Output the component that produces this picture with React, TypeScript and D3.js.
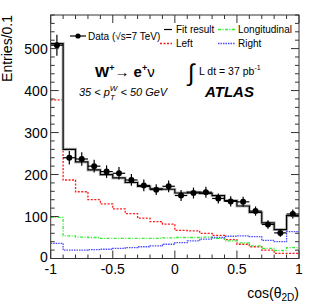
import React from "react";
import * as d3 from "d3";

const binEdges = [-1, -0.9, -0.8, -0.7, -0.6, -0.5, -0.4, -0.3, -0.2, -0.1, 0, 0.1, 0.2, 0.3, 0.4, 0.5, 0.6, 0.7, 0.8, 0.9, 1];
const dataValues = [508, 240, 237, 220, 207, 203, 187, 174, 164, 172, 150, 156, 158, 143, 136, 135, 113, 81, 61, 106];
const dataErrors = [25, 16, 16, 15, 15, 15, 14, 14, 13, 14, 13, 13, 13, 12, 12, 12, 11, 10, 9, 11];
const fitValues = [512, 260, 230, 211, 200, 192, 181, 172, 166, 165, 156, 158, 155, 150, 138, 125, 110, 85, 69, 102];
const leftValues = [378, 187, 159, 140, 130, 118, 107, 96, 88, 82, 67, 66, 60, 55, 45, 34, 28, 20, 12, 12];
const longValues = [98, 54, 51, 50, 48, 48, 48, 48, 48, 49, 50, 50, 51, 48, 42, 37, 30, 24, 19, 26];
const rightValues = [36, 20, 20, 21, 22, 24, 26, 28, 30, 34, 38, 42, 46, 50, 53, 54, 52, 43, 40, 64];
const xMajorTicks = [-1, -0.5, 0, 0.5, 1];
const xTickLabels = ["-1", "-0.5", "0", "0.5", "1"];
const yMajorTicks = [0, 100, 200, 300, 400, 500];
const yTickLabels = ["0", "100", "200", "300", "400", "500"];

const W = 316, H = 308;
const L = 50.7, R = 299, T = 15, B = 258.5;
const FONT = "'Liberation Sans', Arial, Helvetica, sans-serif";

export default function App() {
  const x = d3.scaleLinear().domain([-1, 1]).range([L, R]);
  const y = d3.scaleLinear().domain([0, 580]).range([B, T]);

  const stepPath = (vals: number[]) => {
    const pts: [number, number][] = vals.map((v, i) => [binEdges[i], v]);
    pts.push([binEdges[binEdges.length - 1], vals[vals.length - 1]]);
    return d3.line<[number, number]>().x(d => x(d[0])).y(d => y(d[1])).curve(d3.curveStepAfter)(pts) || "";
  };

  const xMinor = d3.range(-1, 1.0001, 0.1).map(v => +v.toFixed(2));
  const yMinor = d3.range(0, 581, 20);

  const axisColor = "#333";

  return (
    <svg width={W} height={H} style={{ position: "absolute", left: 0, top: 0, background: "#fff" }} fontFamily={FONT}>
      <rect x={0} y={0} width={W} height={H} fill="#fff" />
      {/* components */}
      <path d={stepPath(leftValues)} fill="none" stroke="#ff1a1a" strokeWidth={1.3} strokeDasharray="2,1.5" />
      <path d={stepPath(longValues)} fill="none" stroke="#33ee33" strokeWidth={1.3} strokeDasharray="3,1.5,1,1.5" />
      <path d={stepPath(rightValues)} fill="none" stroke="#4a4aff" strokeWidth={1.3} strokeDasharray="1.5,1" />
      {/* fit */}
      <path d={stepPath(fitValues)} fill="none" stroke="#bbb" strokeWidth={3} />
      <path d={stepPath(fitValues)} fill="none" stroke="#000" strokeWidth={1.2} />
      {/* data */}
      {dataValues.map((v, i) => {
        const cx = x((binEdges[i] + binEdges[i + 1]) / 2);
        return (
          <g key={i}>
            <line x1={cx} x2={cx} y1={y(v - dataErrors[i])} y2={y(v + dataErrors[i])} stroke="#000" strokeWidth={1.2} />
            <line x1={x(binEdges[i])} x2={x(binEdges[i + 1])} y1={y(v)} y2={y(v)} stroke="#000" strokeWidth={1.2} />
            <circle cx={cx} cy={y(v)} r={3} fill="#000" />
          </g>
        );
      })}
      {/* frame */}
      <rect x={L} y={T} width={R - L} height={B - T} fill="none" stroke={axisColor} strokeWidth={1} />
      {/* ticks */}
      {xMinor.map((v, i) => {
        const major = xMajorTicks.some(m => Math.abs(m - v) < 1e-6);
        const len = major ? 8 : 4;
        return (
          <g key={"xt" + i}>
            <line x1={x(v)} x2={x(v)} y1={B} y2={B - len} stroke={axisColor} />
            <line x1={x(v)} x2={x(v)} y1={T} y2={T + len} stroke={axisColor} />
          </g>
        );
      })}
      {yMinor.map((v, i) => {
        const major = v % 100 === 0;
        const len = major ? 8 : 4;
        return (
          <g key={"yt" + i}>
            <line x1={L} x2={L + len} y1={y(v)} y2={y(v)} stroke={axisColor} />
            <line x1={R} x2={R - len} y1={y(v)} y2={y(v)} stroke={axisColor} />
          </g>
        );
      })}
      {/* tick labels */}
      {xMajorTicks.map((v, i) => (
        <text key={"xl" + i} x={x(v)} y={274} fontSize={14} textAnchor="middle" fill="#000">{xTickLabels[i]}</text>
      ))}
      {yMajorTicks.map((v, i) => (
        <text key={"yl" + i} x={L - 3} y={y(v) + (v === 0 ? 3 : 5)} fontSize={14} textAnchor="end" fill="#000">{yTickLabels[i]}</text>
      ))}
      {/* axis titles */}
      <text transform={`translate(12,${T}) rotate(-90)`} fontSize={14} textAnchor="end" fill="#000">Entries/0.1</text>
      <text x={R} y={298} fontSize={14} textAnchor="end" fill="#000">
        cos(θ<tspan fontSize={10} dy={3}>2D</tspan><tspan dy={-3}>)</tspan>
      </text>
      {/* legend */}
      <line x1={70} x2={86} y1={36} y2={36} stroke="#000" strokeWidth={1.2} />
      <circle cx={78} cy={36} r={2.6} fill="#000" />
      <text x={88} y={39.5} fontSize={10} fill="#000">Data (√s=7 TeV)</text>
      <line x1={164} x2={172} y1={29.5} y2={29.5} stroke="#000" strokeWidth={1.2} />
      <text x={176} y={33} fontSize={10} fill="#000">Fit result</text>
      <line x1={218} x2={235} y1={29.5} y2={29.5} stroke="#33ee33" strokeWidth={1.3} strokeDasharray="3,1.5,1,1.5" />
      <text x={238} y={33} fontSize={10} fill="#000">Longitudinal</text>
      <line x1={160} x2={172} y1={43.5} y2={43.5} stroke="#ff1a1a" strokeWidth={1.3} strokeDasharray="2,1.5" />
      <text x={176} y={47} fontSize={10} fill="#000">Left</text>
      <line x1={218} x2={235} y1={43.5} y2={43.5} stroke="#4a4aff" strokeWidth={1.3} strokeDasharray="1.5,1" />
      <text x={238} y={47} fontSize={10} fill="#000">Right</text>
      {/* annotations */}
      <text x={95} y={77} fontSize={15} fontWeight="bold" fill="#000">
        W<tspan fontSize={9} dy={-6}>+</tspan><tspan fontSize={15} fontWeight="normal" dy={6}>→ </tspan>e<tspan fontSize={9} dy={-6}>+</tspan><tspan fontSize={15} fontWeight="normal" dy={6}>ν</tspan>
      </text>
      <text x={79} y={95.5} fontSize={11} fontStyle="italic" fill="#000">
        35 &lt; p<tspan fontSize={8} dy={4}>T</tspan><tspan fontSize={8} dx={-5} dy={-9}>W</tspan><tspan dy={5}> &lt; 50 GeV</tspan>
      </text>
      <text x={188} y={81} fontSize={24} fill="#000">∫</text>
      <text x={199} y={75} fontSize={10.5} fill="#000">
        L dt = 37 pb<tspan fontSize={7} dy={-5}>-1</tspan>
      </text>
      <text x={205} y={97} fontSize={15} fontWeight="bold" fontStyle="italic" fill="#000">ATLAS</text>
    </svg>
  );
}
